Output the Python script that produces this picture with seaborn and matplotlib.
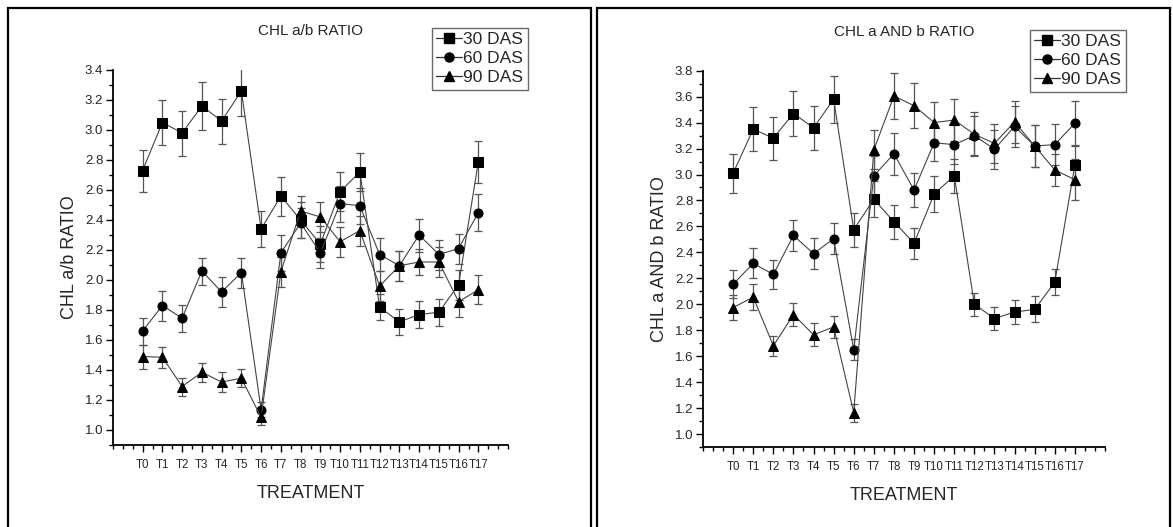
import numpy as np
import pandas as pd
import matplotlib
matplotlib.use("Agg")
import matplotlib.pyplot as plt
from matplotlib.patches import Rectangle
from matplotlib.ticker import MultipleLocator
import seaborn as sns

treatments = [f"T{i}" for i in range(18)]
series_names = ["30 DAS", "60 DAS", "90 DAS"]

# Left chart: CHL a/b RATIO
ab_30 = [2.73, 3.05, 2.98, 3.16, 3.06, 3.26, 2.34, 2.56, 2.40, 2.24, 2.59, 2.72, 1.82, 1.72, 1.77, 1.785, 1.97, 2.79]
ab_60 = [1.66, 1.83, 1.745, 2.06, 1.92, 2.05, 1.135, 2.18, 2.38, 2.18, 2.51, 2.495, 2.17, 2.095, 2.30, 2.17, 2.21, 2.45]
ab_90 = [1.49, 1.485, 1.29, 1.385, 1.32, 1.345, 1.085, 2.055, 2.46, 2.42, 2.255, 2.33, 1.96, 2.095, 2.12, 2.12, 1.855, 1.935]
ab_30_err = [0.14, 0.15, 0.15, 0.16, 0.15, 0.165, 0.12, 0.13, 0.12, 0.12, 0.13, 0.13, 0.085, 0.085, 0.09, 0.09, 0.10, 0.14]
ab_60_err = [0.09, 0.10, 0.09, 0.09, 0.10, 0.10, 0.05, 0.12, 0.10, 0.10, 0.12, 0.12, 0.11, 0.10, 0.11, 0.10, 0.10, 0.12]
ab_90_err = [0.08, 0.07, 0.06, 0.065, 0.065, 0.06, 0.05, 0.10, 0.10, 0.10, 0.10, 0.10, 0.10, 0.10, 0.09, 0.10, 0.10, 0.095]

# Right chart: CHL a AND b RATIO
anb_30 = [3.01, 3.35, 3.28, 3.47, 3.36, 3.58, 2.575, 2.81, 2.635, 2.47, 2.85, 2.99, 2.00, 1.89, 1.94, 1.96, 2.17, 3.07]
anb_60 = [2.155, 2.315, 2.23, 2.53, 2.39, 2.505, 1.65, 2.99, 3.16, 2.88, 3.245, 3.23, 3.30, 3.195, 3.37, 3.22, 3.23, 3.395]
anb_90 = [1.975, 2.055, 1.68, 1.92, 1.765, 1.825, 1.165, 3.19, 3.605, 3.53, 3.40, 3.42, 3.31, 3.24, 3.405, 3.22, 3.035, 2.96]
anb_30_err = [0.15, 0.17, 0.165, 0.175, 0.17, 0.18, 0.13, 0.14, 0.13, 0.12, 0.14, 0.13, 0.09, 0.09, 0.095, 0.10, 0.10, 0.15]
anb_60_err = [0.11, 0.115, 0.11, 0.12, 0.12, 0.12, 0.08, 0.15, 0.16, 0.13, 0.14, 0.15, 0.15, 0.15, 0.16, 0.16, 0.16, 0.17]
anb_90_err = [0.10, 0.10, 0.075, 0.09, 0.09, 0.085, 0.07, 0.15, 0.175, 0.175, 0.16, 0.16, 0.17, 0.15, 0.16, 0.16, 0.12, 0.16]

sns.set_theme(style="ticks")
plt.rcParams['font.family'] = ['Liberation Sans Narrow', 'Liberation Sans', 'DejaVu Sans']

W, H = 1173, 527
fig = plt.figure(figsize=(W / 100, H / 100), dpi=100)
fig.patch.set_facecolor("white")

markers = {"30 DAS": "s", "60 DAS": "o", "90 DAS": "^"}


def make_df(vals, errs):
    rows = []
    for name, v, e in zip(series_names, vals, errs):
        for i, t in enumerate(treatments):
            rows.append({"pos": i, "treatment": t, "series": name, "value": v[i], "err": e[i]})
    return pd.DataFrame(rows)


def draw_panel(rect, vals, errs, ylim, ytop_ticks, title, ylabel, legend_box):
    ax = fig.add_axes(rect)
    df = make_df(vals, errs)
    for name in series_names:
        sub = df[df.series == name]
        ax.errorbar(sub.pos, sub.value, yerr=sub.err, fmt="none", ecolor="#555555",
                    elinewidth=0.9, capsize=3, capthick=0.9, zorder=2)
    sns.lineplot(data=df, x="pos", y="value", style="series", markers=markers,
                 dashes=False, color="#444444", linewidth=0.8, markersize=6.5,
                 markeredgecolor="black", markerfacecolor="black", ax=ax,
                 legend=False, zorder=3, estimator=None)
    ax.set_xlim(-1.5, 18.5)
    ax.set_ylim(*ylim)
    ax.set_xticks(range(len(treatments)))
    ax.set_xticklabels(treatments, fontsize=8.3)
    ax.xaxis.set_minor_locator(MultipleLocator(0.5))
    yt = np.round(np.arange(1.0, ytop_ticks + 0.001, 0.2), 1)
    ax.set_yticks(yt)
    ax.set_yticklabels([f"{v:.1f}" for v in yt], fontsize=9.5)
    ax.yaxis.set_minor_locator(MultipleLocator(0.1))
    ax.tick_params(axis="both", which="major", length=5, width=1, color="black", direction="out", pad=2)
    ax.tick_params(axis="x", which="major", pad=5)
    ax.tick_params(axis="both", which="minor", length=3, width=1, color="black", direction="out")
    for s in ["top", "right"]:
        ax.spines[s].set_visible(False)
    for s in ["left", "bottom"]:
        ax.spines[s].set_linewidth(1.3)
        ax.spines[s].set_color("black")
    ax.set_xlabel("TREATMENT", fontsize=13, labelpad=10)
    ax.set_ylabel(ylabel, fontsize=13, labelpad=5)
    ax.set_title(title, fontsize=11, pad=25)
    ax.set_facecolor("white")
    handles = [plt.Line2D([], [], color="#333333", lw=0.9, marker=markers[n], markersize=6.5,
                          markerfacecolor="black", markeredgecolor="black") for n in series_names]
    leg = ax.legend(handles, series_names, loc="upper left", bbox_to_anchor=legend_box,
                    bbox_transform=fig.transFigure, frameon=True, fancybox=False,
                    fontsize=12.5, handlelength=1.5, handletextpad=0.05, borderpad=0.25,
                    labelspacing=0.22, borderaxespad=0)
    leg.get_frame().set_edgecolor("#444444")
    leg.get_frame().set_linewidth(1.0)
    return ax


left_rect = [113 / W, (H - 445) / H, (508 - 113) / W, (445 - 70) / H]
right_rect = [703 / W, (H - 447) / H, (1105 - 703) / W, (447 - 70.7) / H]

draw_panel(left_rect, [ab_30, ab_60, ab_90], [ab_30_err, ab_60_err, ab_90_err],
           (0.9, 3.4), 3.4, "CHL a/b RATIO", "CHL a/b RATIO", (432 / W, 1 - 28 / H))
draw_panel(right_rect, [anb_30, anb_60, anb_90], [anb_30_err, anb_60_err, anb_90_err],
           (0.9, 3.8), 3.8, "CHL a AND b RATIO", "CHL a AND b RATIO", (1030 / W, 1 - 30 / H))

# panel frames
fig.patches.append(Rectangle((8 / W, -0.05), (591 - 8) / W, (H - 8) / H + 0.05,
                             transform=fig.transFigure, fill=False, edgecolor="black", lw=1.6))
fig.patches.append(Rectangle((597 / W, -0.05), (1170 - 597) / W, (H - 8) / H + 0.05,
                             transform=fig.transFigure, fill=False, edgecolor="black", lw=1.6))

fig.savefig("out.png", dpi=100)
